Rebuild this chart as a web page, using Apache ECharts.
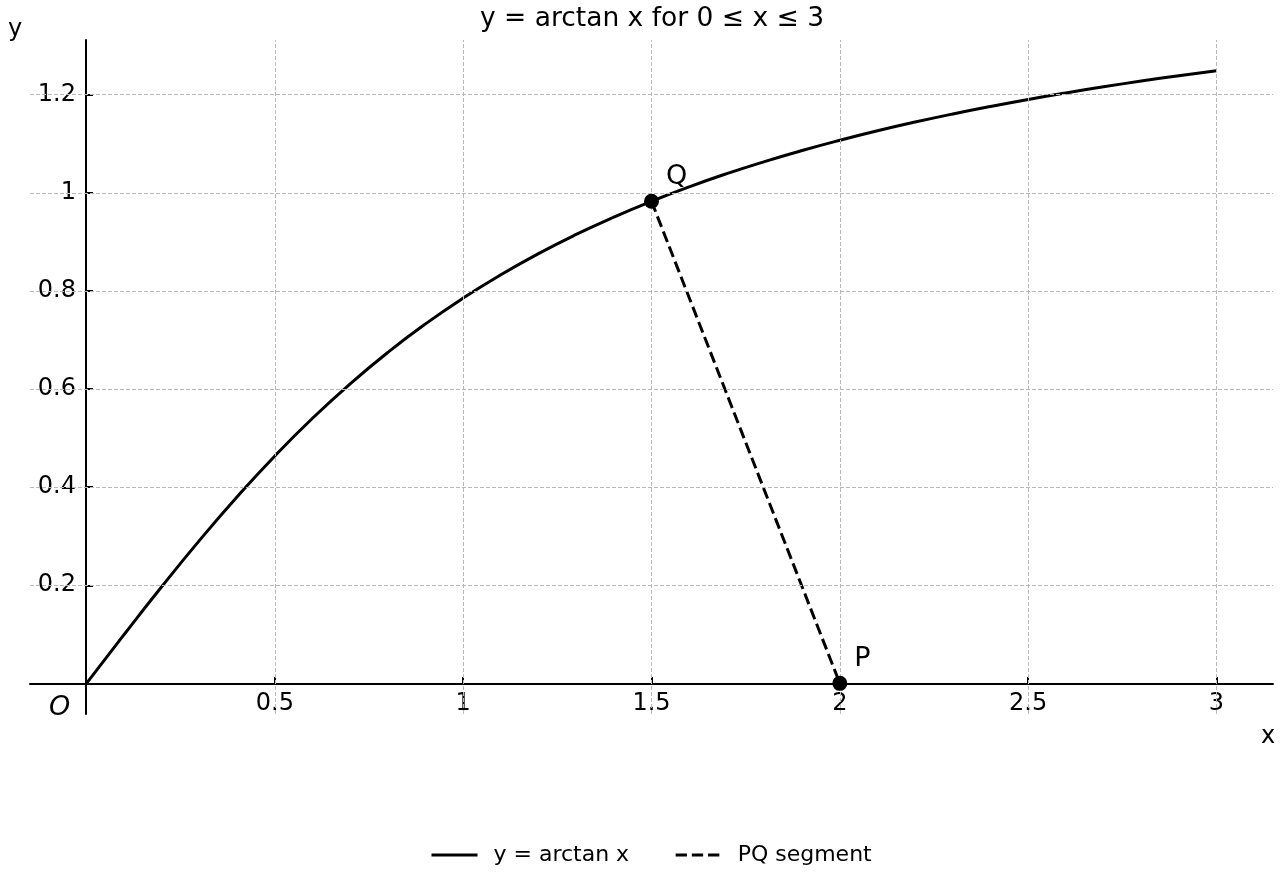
<!DOCTYPE html>
<html>
<head>
<meta charset="utf-8">
<script src="https://cdn.jsdelivr.net/npm/echarts@6/dist/echarts.min.js"></script>
<style>html,body{margin:0;padding:0;background:#fff}#c{width:1280px;height:880px}</style>
</head>
<body>
<div id="c"></div>
<script>
// Curve samples (x, y)
const curveX = [0,0.1,0.2,0.3,0.4,0.5,0.6,0.7,0.8,0.9,1.0,1.1,1.2,1.3,1.4,1.5,1.6,1.7,1.8,1.9,2.0,2.1,2.2,2.3,2.4,2.5,2.6,2.7,2.8,2.9,3.0];
const curveY = [0,0.0997,0.1974,0.2915,0.3805,0.4636,0.5404,0.6107,0.6747,0.7328,0.7854,0.8330,0.8761,0.9151,0.9505,0.9828,1.0122,1.0391,1.0637,1.0863,1.1071,1.1264,1.1442,1.1607,1.1760,1.1903,1.2036,1.2161,1.2278,1.2387,1.2490];
const pointNames = ['Q','P'];
const pointX = [1.5, 2.0];
const pointY = [0.9828, 0];
const xTicks = [0.5,1,1.5,2,2.5,3];
const yTicks = [0.2,0.4,0.6,0.8,1.0,1.2];

const FONT = 'DejaVu Sans';
const chart = echarts.init(document.getElementById('c'), null, {renderer:'canvas'});

const gridLineStyle = {color:'#b8b8b8', width:1, type:[4,2]};
const gridMarks = xTicks.map(v => ({xAxis:v})).concat(yTicks.map(v => ({yAxis:v})));

chart.setOption({
  animation:false,
  textStyle:{fontFamily:FONT, color:'#000'},
  title:{text:'y = arctan x for 0 ≤ x ≤ 3', left:647, textAlign:'center', top:1,
    textStyle:{fontFamily:FONT, fontSize:26.5, fontWeight:'normal', color:'#000'}},
  legend:{top:839, left:425, itemWidth:46, itemHeight:14, itemGap:45,
    itemStyle:{color:'rgba(0,0,0,0)', borderColor:'rgba(0,0,0,0)', borderWidth:0},
    lineStyle:{width:3},
    textStyle:{fontFamily:FONT, fontSize:22, color:'#000', padding:[0,0,0,11]},
    data:['y = arctan x','PQ segment']},
  grid:{left:30, right:7, top:40, bottom:166, containLabel:false, outerBoundsMode:'none'},
  xAxis:{type:'value', min:-0.15, max:3.15, position:'bottom', offset:-30,
    axisLine:{onZero:false, lineStyle:{color:'#000', width:2}},
    axisTick:{inside:true, length:7, customValues:xTicks, lineStyle:{color:'#000', width:2}},
    axisLabel:{customValues:xTicks, margin:8, fontFamily:FONT, fontSize:24, color:'#000'},
    splitLine:{show:false}},
  yAxis:{type:'value', min:-0.06245, max:1.3115, position:'left', offset:-56,
    axisLine:{show:true, onZero:false, lineStyle:{color:'#000', width:2}},
    axisTick:{show:true, inside:true, length:7, customValues:yTicks, lineStyle:{color:'#000', width:2}},
    axisLabel:{customValues:yTicks, margin:10, padding:[4,0,0,0], fontFamily:FONT, fontSize:24, color:'#000'},
    splitLine:{show:false}},
  graphic:[
    {type:'text', left:8, top:18, style:{text:'y', font:'24px "DejaVu Sans"', fill:'#000'}},
    {type:'text', left:1261, top:725, style:{text:'x', font:'24px "DejaVu Sans"', fill:'#000'}},
    {type:'text', left:49, top:694, style:{text:'O', font:'italic 27px "DejaVu Sans"', fill:'#000'}}
  ],
  series:[
    {name:'grid', type:'line', data:[], z:1, silent:true,
      markLine:{silent:true, symbol:['none','none'], label:{show:false}, lineStyle:gridLineStyle, data:gridMarks, animation:false}},
    {name:'y = arctan x', type:'line', smooth:true, showSymbol:false, symbol:'none', z:3,
      lineStyle:{color:'#000', width:3}, itemStyle:{color:'#000'},
      data:curveX.map((x,i)=>[x, curveY[i]])},
    {name:'PQ segment', type:'line', showSymbol:false, symbol:'none', z:3,
      lineStyle:{color:'#000', width:3, type:[11.3,4.9]}, itemStyle:{color:'#000'},
      data:pointX.map((x,i)=>[x, pointY[i]])},
    {name:'points', type:'scatter', symbolSize:15, z:5, itemStyle:{color:'#000', opacity:1},
      label:{show:true, position:'right', distance:7, offset:[0,-24], formatter:'{b}',
        fontFamily:FONT, fontSize:27, color:'#000'},
      data:pointNames.map((n,i)=>({name:n, value:[pointX[i], pointY[i]]}))}
  ]
});
</script>
</body>
</html>
